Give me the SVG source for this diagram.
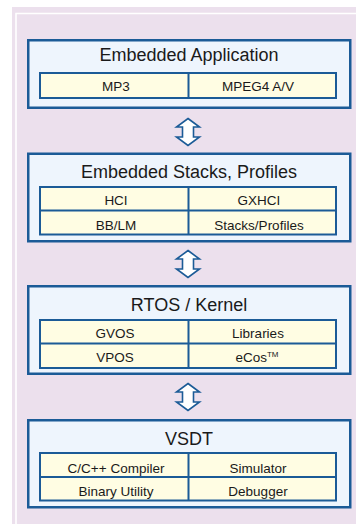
<svg xmlns="http://www.w3.org/2000/svg" width="356" height="525" viewBox="0 0 356 525">
<defs>
<style>
.box{fill:#EEF5FD;stroke:#1B5B97;stroke-width:2.5}
.grid{fill:#FFFDE3;stroke:#1B5B97;stroke-width:2}
.div{stroke:#1B5B97;stroke-width:2;fill:none}
.title{font-family:"Liberation Sans",Arial,sans-serif;font-size:18px;fill:#1a1a1a;text-anchor:middle}
.cell{font-family:"Liberation Sans",Arial,sans-serif;font-size:13.5px;fill:#1a1a1a;text-anchor:middle}
.arrow{fill:#ffffff;stroke:#1B5B97;stroke-width:1.6;stroke-linejoin:miter}
</style>
</defs>
<rect x="0" y="0" width="356" height="525" fill="#ffffff"/>
<rect x="12" y="7" width="344" height="517" fill="#ECE0ED"/>
<path d="M16,525 V13.5 H356" fill="none" stroke="#ffffff" stroke-width="1.6"/>

<g id="connectors">
<path class="arrow" d="M188,118.5 L199.5,127 L193.5,127 L193.5,137 L199.5,137 L188,145.5 L176.5,137 L182.5,137 L182.5,127 L176.5,127 Z"/>
<path class="arrow" d="M188,250.5 L199.5,259 L193.5,259 L193.5,269 L199.5,269 L188,277.5 L176.5,269 L182.5,269 L182.5,259 L176.5,259 Z"/>
<path class="arrow" d="M188,383.5 L199.5,392 L193.5,392 L193.5,402 L199.5,402 L188,410.5 L176.5,402 L182.5,402 L182.5,392 L176.5,392 Z"/>
</g>

<g id="embedded-application">
<rect class="box" x="28.25" y="40.25" width="322" height="67.5"/>
<text class="title" x="189" y="61">Embedded Application</text>
<rect class="grid" x="40" y="73" width="296" height="25"/>
<path class="div" d="M188.5,73 V98"/>
<text class="cell" x="116" y="90.5">MP3</text>
<text class="cell" x="258" y="90.5">MPEG4 A/V</text>
</g>

<g id="embedded-stacks">
<rect class="box" x="28.25" y="153.75" width="322" height="87.5"/>
<text class="title" x="189" y="177.7">Embedded Stacks, Profiles</text>
<rect class="grid" x="40" y="187" width="296" height="47.5"/>
<path class="div" d="M188.5,187 V234.5 M40,210.5 H336"/>
<text class="cell" x="116" y="205">HCI</text>
<text class="cell" x="259" y="205">GXHCI</text>
<text class="cell" x="116" y="229.5">BB/LM</text>
<text class="cell" x="259" y="229.5">Stacks/Profiles</text>
</g>

<g id="rtos-kernel">
<rect class="box" x="28.25" y="286.25" width="322" height="87.5"/>
<text class="title" x="189" y="311">RTOS / Kernel</text>
<rect class="grid" x="40" y="320" width="296" height="48"/>
<path class="div" d="M188.5,320 V368 M40,343.5 H336"/>
<text class="cell" x="115" y="337.5">GVOS</text>
<text class="cell" x="258" y="337.5">Libraries</text>
<text class="cell" x="115" y="362">VPOS</text>
<text class="cell" x="257" y="362">eCos<tspan font-size="8" dy="-5">TM</tspan></text>
</g>

<g id="vsdt">
<rect class="box" x="28.25" y="420.25" width="322" height="87"/>
<text class="title" x="189" y="445">VSDT</text>
<rect class="grid" x="40" y="453" width="296" height="47.5"/>
<path class="div" d="M188.5,453 V500.5 M40,477 H336"/>
<text class="cell" x="116" y="472.5">C/C++ Compiler</text>
<text class="cell" x="258" y="472.5">Simulator</text>
<text class="cell" x="116" y="496">Binary Utility</text>
<text class="cell" x="258" y="496">Debugger</text>
</g>
</svg>
